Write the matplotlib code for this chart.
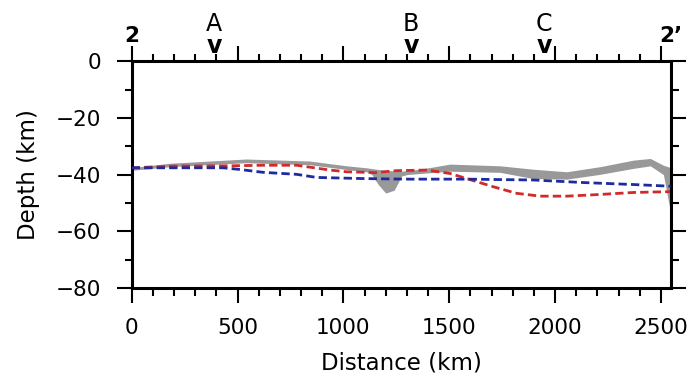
import matplotlib
matplotlib.use("Agg")
import matplotlib.pyplot as plt
from matplotlib.ticker import MultipleLocator

# gray band (range of models), distance in km, depth in km
gray_x = [0, 180, 540, 840, 1015, 1110, 1135, 1165, 1200, 1240, 1275, 1300,
          1362, 1504, 1741, 1897, 2055, 2213, 2370, 2450, 2512, 2545]
gray_top = [-37.5, -36.0, -34.5, -35.2, -36.9, -37.6, -37.9, -38.2, -38.5, -38.7, -38.8, -38.6,
            -38.1, -36.3, -36.9, -38.1, -39.0, -37.2, -34.9, -34.3, -36.7, -37.5]
gray_bot = [-38.5, -37.2, -35.8, -36.5, -38.2, -39.0, -40.0, -43.5, -46.5, -45.5, -40.5, -40.0,
            -39.6, -38.8, -39.2, -41.4, -41.6, -39.9, -37.8, -36.9, -40.0, -53.0]

red_x = [0, 200, 464, 622, 779, 937, 1015, 1150, 1252, 1393, 1504, 1583,
         1709, 1819, 1930, 2055, 2213, 2370, 2547]
red_y = [-37.6, -37.0, -36.9, -36.7, -36.7, -38.4, -39.0, -39.3, -38.6, -38.4, -39.6, -41.4,
         -44.3, -46.6, -47.6, -47.6, -47.0, -46.3, -46.0]

blue_x = [0, 432, 512, 622, 779, 874, 1094, 1307, 1583, 1897, 2134, 2370, 2547]
blue_y = [-37.6, -37.6, -38.2, -39.2, -39.9, -41.0, -41.4, -41.6, -41.6, -41.9, -42.8, -43.5, -44.1]

# profile markers along the top
mark_x = [390, 1320, 1948]
mark_lab = ["A", "B", "C"]
XMAX = 2547

fig = plt.figure(figsize=(6.93, 3.8), dpi=100)
ax = fig.add_axes([0.190, 0.242, 0.778, 0.597])

ax.fill_between(gray_x, gray_top, gray_bot, color="#999999", lw=0, zorder=1)
ax.plot(red_x, red_y, color="#d12a2a", lw=2.0, dashes=(3.0, 1.5), zorder=2)
ax.plot(blue_x, blue_y, color="#1c2ba0", lw=2.0, dashes=(3.0, 1.5), zorder=3)

ax.set_xlim(0, XMAX)
ax.set_ylim(-80, 0)
ax.xaxis.set_major_locator(MultipleLocator(500))
ax.xaxis.set_minor_locator(MultipleLocator(100))
ax.yaxis.set_major_locator(MultipleLocator(20))
ax.yaxis.set_minor_locator(MultipleLocator(10))
ax.tick_params(which="both", direction="out", top=True, right=True,
               width=1.5, labelsize=15.5, pad=11)
ax.tick_params(which="major", length=10.8)
ax.tick_params(which="minor", length=5.4)
for s in ax.spines.values():
    s.set_linewidth(2.2)

ax.set_xlabel("Distance (km)", fontsize=16.5)
ax.set_ylabel("Depth (km)", fontsize=16.5)
ax.xaxis.set_label_coords(0.5, -0.28)
ax.yaxis.set_label_coords(-0.170, 0.5)

tr = ("data", "axes fraction")
for x, lab in zip(mark_x, mark_lab):
    ax.annotate(lab, xy=(x, 1), xycoords=tr, xytext=(0, 22), textcoords="offset points",
                ha="center", va="baseline", fontsize=17)
    ax.annotate("v", xy=(x, 1), xycoords=tr, xytext=(0, 5.8), textcoords="offset points",
                ha="center", va="baseline", fontsize=17, fontweight="bold")
ax.annotate("2", xy=(0, 1), xycoords=tr, xytext=(0, 13.7), textcoords="offset points",
            ha="center", va="baseline", fontsize=15.5, fontweight="bold")
ax.annotate("2\u2019", xy=(XMAX, 1), xycoords=tr, xytext=(0, 13.7), textcoords="offset points",
            ha="center", va="baseline", fontsize=15.5, fontweight="bold")

fig.savefig("out.png", dpi=100)
